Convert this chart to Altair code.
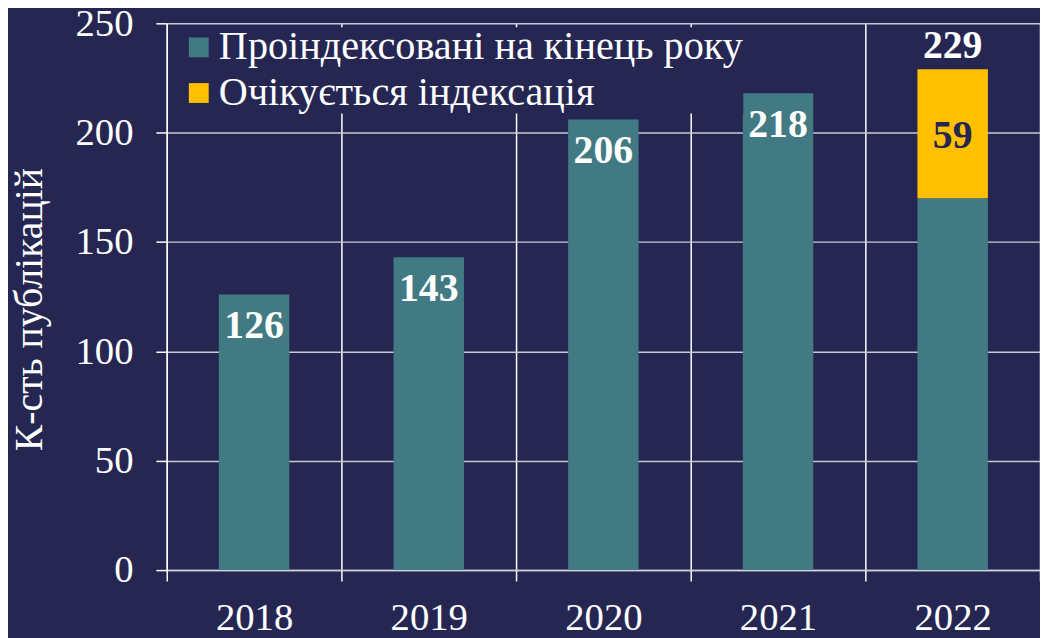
import altair as alt
import pandas as pd

years = ["2018", "2019", "2020", "2021", "2022"]
indexed = [126, 143, 206, 218, 170]
expected = [0, 0, 0, 0, 59]
series_names = ["Проіндексовані на кінець року", "Очікується індексація"]
series_colors = ["#427A83", "#FFC000"]
y_title = "К-сть публікацій"

NAVY = "#262653"
FONT = "Liberation Serif"

rows = []
for y, a, b in zip(years, indexed, expected):
    rows.append({"year": y, "series": series_names[0], "value": a, "ord": 0})
    rows.append({"year": y, "series": series_names[1], "value": b, "ord": 1})
long_df = pd.DataFrame(rows)

wide_df = pd.DataFrame({"year": years, "indexed": indexed, "expected": expected})
wide_df["total"] = wide_df["indexed"] + wide_df["expected"]

x_enc = alt.X(
    "year:O",
    scale=alt.Scale(paddingInner=0, paddingOuter=0),
    axis=alt.Axis(
        title=None,
        labelAngle=0,
        labelFont=FONT,
        labelFontSize=39,
        labelColor="white",
        labelPadding=18,
        tickBand="extent",
        grid=True,
        gridColor="white",
        gridWidth=1.5,
        tickColor="white",
        tickWidth=1.5,
        tickSize=11,
        domainColor="#D0D0D8",
        domainWidth=1.5,
    ),
)

y_scale = alt.Scale(domain=[0, 250], nice=False)

bars = alt.Chart(long_df).mark_bar(size=71).encode(
    x=x_enc,
    y=alt.Y(
        "value:Q",
        stack="zero",
        scale=y_scale,
        axis=alt.Axis(
            values=[0, 50, 100, 150, 200, 250],
            title=y_title,
            titleFont=FONT,
            titleFontSize=40,
            titleFontWeight="normal",
            titleColor="white",
            titleAngle=270,
            titleAlign="center",
            titleBaseline="alphabetic",
            titleX=-126,
            titleY=288,
            labelFont=FONT,
            labelFontSize=39,
            labelColor="white",
            labelPadding=23,
            grid=True,
            gridColor="#C8C8D2",
            gridWidth=1.5,
            tickColor="white",
            tickWidth=1.5,
            tickSize=11,
            domainColor="white",
            domainWidth=1.5,
        ),
    ),
    color=alt.Color(
        "series:N",
        scale=alt.Scale(domain=series_names, range=series_colors),
        legend=alt.Legend(
            title=None,
            orient="none",
            legendX=5,
            legendY=4,
            fillColor=NAVY,
            padding=0,
            symbolType="square",
            symbolSize=400,
            symbolStrokeWidth=0,
            symbolOffset=7,
            labelOffset=0,
            labelFont=FONT,
            labelFontSize=40.5,
            labelColor="white",
            labelLimit=1000,
            rowPadding=5,
        ),
    ),
    order=alt.Order("ord:Q"),
)

base = alt.Chart(wide_df)

inside_labels = base.transform_filter("datum.expected == 0").mark_text(
    font=FONT, fontSize=40, fontWeight="bold", color="white",
    baseline="alphabetic", dy=44,
).encode(
    x=alt.X("year:O"),
    y=alt.Y("total:Q", scale=y_scale),
    text=alt.Text("total:Q"),
)

top_labels = base.transform_filter("datum.expected > 0").mark_text(
    font=FONT, fontSize=40, fontWeight="bold", color="white",
    baseline="alphabetic", dy=-11,
).encode(
    x=alt.X("year:O"),
    y=alt.Y("total:Q", scale=y_scale),
    text=alt.Text("total:Q"),
)

mid_labels = base.transform_filter("datum.expected > 0").transform_calculate(
    mid="datum.indexed + datum.expected / 2"
).mark_text(
    font=FONT, fontSize=40, fontWeight="bold", color=NAVY,
    baseline="alphabetic", dy=14,
).encode(
    x=alt.X("year:O"),
    y=alt.Y("mid:Q", scale=y_scale),
    text=alt.Text("expected:Q"),
)

chart = alt.layer(bars, inside_labels, top_labels, mid_labels).properties(
    width=880,
    height=551,
    autosize=alt.AutoSizeParams(type="none"),
    padding={"left": 160, "top": 13, "right": 0, "bottom": 66},
    background=NAVY,
).configure(
    font=FONT,
).configure_text(
    font=FONT,
).configure_legend(
    labelFont=FONT,
).configure_view(stroke=None)

chart.save("out.html", embed_options={"renderer": "svg", "actions": False})
